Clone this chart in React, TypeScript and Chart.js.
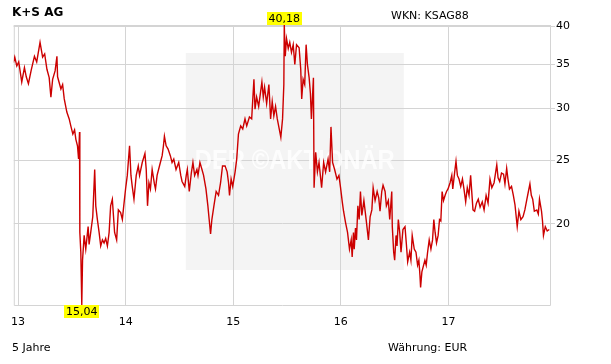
import React, { useEffect, useRef } from "react";
import { Chart, registerables } from "chart.js";

Chart.register(...registerables);

// Decimal years (trading dates) and closing prices in EUR
const dates = [
  2012.957, 2012.969, 2012.988, 2013.006, 2013.034, 2013.059, 2013.076, 2013.096, 2013.122, 2013.152,
  2013.173, 2013.204, 2013.228, 2013.247, 2013.268, 2013.289, 2013.305, 2013.321, 2013.344, 2013.361,
  2013.367, 2013.398, 2013.414, 2013.429, 2013.453, 2013.475, 2013.490, 2013.509, 2013.525, 2013.537,
  2013.552, 2013.562, 2013.571, 2013.574, 2013.583, 2013.592, 2013.599, 2013.614, 2013.629, 2013.651,
  2013.660, 2013.675, 2013.694, 2013.712, 2013.722, 2013.737, 2013.753, 2013.768, 2013.784, 2013.799,
  2013.814, 2013.830, 2013.846, 2013.860, 2013.876, 2013.897, 2013.916, 2013.932, 2013.953, 2013.969,
  2013.982, 2013.999, 2014.015, 2014.036, 2014.049, 2014.061, 2014.077, 2014.098, 2014.117, 2014.129,
  2014.154, 2014.179, 2014.191, 2014.203, 2014.216, 2014.230, 2014.246, 2014.267, 2014.277, 2014.292,
  2014.314, 2014.339, 2014.351, 2014.360, 2014.376, 2014.394, 2014.415, 2014.431, 2014.447, 2014.468,
  2014.493, 2014.512, 2014.524, 2014.549, 2014.563, 2014.573, 2014.591, 2014.610, 2014.625, 2014.641,
  2014.662, 2014.672, 2014.690, 2014.709, 2014.724, 2014.746, 2014.764, 2014.776, 2014.789, 2014.801,
  2014.820, 2014.841, 2014.863, 2014.882, 2014.900, 2014.924, 2014.943, 2014.956, 2014.965, 2014.980,
  2014.995, 2015.017, 2015.032, 2015.048, 2015.069, 2015.088, 2015.109, 2015.125, 2015.150, 2015.171,
  2015.192, 2015.202, 2015.217, 2015.236, 2015.266, 2015.279, 2015.291, 2015.310, 2015.331, 2015.347,
  2015.362, 2015.377, 2015.393, 2015.409, 2015.427, 2015.442, 2015.458, 2015.470, 2015.474, 2015.483,
  2015.495, 2015.511, 2015.525, 2015.541, 2015.557, 2015.572, 2015.588, 2015.612, 2015.627, 2015.636,
  2015.649, 2015.664, 2015.677, 2015.689, 2015.705, 2015.717, 2015.726, 2015.745, 2015.751, 2015.766,
  2015.782, 2015.797, 2015.821, 2015.840, 2015.858, 2015.881, 2015.896, 2015.908, 2015.923, 2015.942,
  2015.964, 2015.982, 2015.997, 2016.013, 2016.025, 2016.043, 2016.062, 2016.080, 2016.096, 2016.105,
  2016.117, 2016.124, 2016.136, 2016.145, 2016.158, 2016.170, 2016.182, 2016.195, 2016.214, 2016.235,
  2016.256, 2016.272, 2016.288, 2016.300, 2016.318, 2016.337, 2016.352, 2016.364, 2016.380, 2016.392,
  2016.411, 2016.423, 2016.441, 2016.454, 2016.473, 2016.478, 2016.491, 2016.500, 2016.513, 2016.522,
  2016.534, 2016.547, 2016.559, 2016.577, 2016.596, 2016.608, 2016.621, 2016.639, 2016.651, 2016.663,
  2016.682, 2016.698, 2016.713, 2016.725, 2016.735, 2016.741, 2016.753, 2016.769, 2016.781, 2016.793,
  2016.806, 2016.821, 2016.837, 2016.852, 2016.864, 2016.876, 2016.889, 2016.904, 2016.917, 2016.929,
  2016.941, 2016.954, 2016.969, 2016.982, 2016.996, 2017.015, 2017.031, 2017.040, 2017.058, 2017.070,
  2017.083, 2017.098, 2017.114, 2017.130, 2017.144, 2017.160, 2017.175, 2017.191, 2017.206, 2017.228,
  2017.243, 2017.260, 2017.277, 2017.294, 2017.314, 2017.331, 2017.350, 2017.368, 2017.386, 2017.403,
  2017.424, 2017.449, 2017.461, 2017.476, 2017.493, 2017.512, 2017.525, 2017.541, 2017.553, 2017.567,
  2017.586, 2017.603, 2017.618, 2017.639, 2017.655, 2017.673, 2017.693, 2017.710, 2017.729, 2017.743,
  2017.757, 2017.770, 2017.783, 2017.798, 2017.821, 2017.835, 2017.846, 2017.865, 2017.874, 2017.883,
  2017.900, 2017.918, 2017.937,
];

const prices = [
  35.2, 35.9, 34.8, 35.3, 32.9, 34.6, 33.5, 32.7, 34.3, 36.0,
  35.3, 37.8, 35.9, 36.3, 34.4, 33.4, 31.2, 33.2, 34.2, 36.0,
  33.5, 32.1, 32.6, 31.0, 29.6, 28.9, 28.2, 27.4, 27.8, 26.9,
  26.3, 25.1, 27.6, 19.4, 18.1, 15.04, 17.6, 19.2, 18.3, 19.8,
  18.6, 19.4, 20.5, 24.2, 21.3, 20.3, 19.4, 18.5, 18.9, 18.7,
  19.0, 18.5, 19.4, 21.3, 21.8, 19.4, 18.9, 21.0, 20.8, 20.3,
  21.3, 22.6, 23.7, 26.3, 23.7, 22.8, 21.8, 23.7, 24.5, 23.7,
  24.8, 25.6, 24.2, 21.3, 23.1, 22.6, 24.2, 23.0, 22.6, 23.7,
  24.5, 25.4, 26.3, 27.2, 26.3, 26.0, 25.4, 24.8, 25.1, 24.2,
  24.8, 23.7, 23.2, 22.8, 23.7, 24.2, 22.4, 23.9, 24.8, 23.7,
  24.2, 23.7, 24.8, 24.2, 23.7, 22.6, 21.3, 20.3, 19.3, 20.3,
  21.3, 22.4, 22.1, 23.1, 24.5, 24.5, 24.0, 23.1, 22.1, 23.4,
  22.8, 24.0, 25.1, 27.4, 28.2, 27.9, 28.9, 28.2, 29.1, 28.9,
  33.2, 29.9, 31.2, 30.2, 32.9, 31.2, 32.3, 30.5, 32.6, 28.9,
  30.7, 29.2, 30.2, 28.9, 27.9, 27.1, 28.9, 32.6, 40.18, 36.0,
  38.3, 37.0, 37.8, 36.5, 37.5, 35.0, 37.5, 37.1, 34.4, 31.0,
  33.2, 32.6, 37.5, 35.0, 33.4, 31.6, 28.9, 33.4, 22.7, 25.7,
  24.0, 24.8, 22.7, 24.8, 24.0, 25.1, 24.0, 28.1, 24.8, 24.2,
  23.4, 23.7, 22.7, 21.6, 20.9, 20.1, 19.4, 18.3, 18.9, 17.8,
  19.4, 18.3, 19.7, 18.9, 21.3, 20.3, 22.4, 20.6, 21.7, 20.3,
  18.9, 20.5, 21.0, 22.7, 21.7, 22.4, 21.9, 20.9, 22.4, 22.9,
  22.4, 21.3, 21.7, 20.3, 22.4, 19.8, 18.1, 17.6, 19.2, 18.5,
  20.3, 19.4, 18.1, 19.6, 19.8, 18.7, 17.5, 18.1, 17.6, 19.2,
  18.3, 18.1, 17.3, 17.6, 16.7, 16.0, 16.9, 17.3, 17.6, 17.3,
  18.1, 18.9, 18.3, 18.9, 20.3, 19.4, 18.7, 19.2, 20.3, 20.2,
  22.4, 21.7, 22.1, 22.4, 22.6, 23.1, 23.7, 22.6, 24.0, 24.9,
  23.7, 23.4, 22.8, 23.4, 22.6, 21.6, 22.7, 22.1, 23.7, 21.0,
  20.9, 21.5, 21.8, 21.2, 21.6, 21.0, 22.1, 21.5, 23.4, 22.7,
  23.1, 24.6, 23.5, 23.2, 23.9, 23.8, 23.0, 24.3, 23.4, 22.6,
  22.8, 22.1, 21.4, 19.8, 20.9, 20.3, 20.5, 21.0, 21.8, 22.4,
  23.0, 22.1, 21.8, 20.9, 21.0, 20.7, 21.8, 20.9, 20.2, 19.2,
  19.8, 19.5, 19.6,
];

const xTickYears = [2013, 2014, 2015, 2016, 2017];
const yTickValues = [20, 25, 30, 35, 40];
const xRangeStart = 2012.96;
const xRangeEnd = 2017.953;

const titleText = "K+S AG";
const wknText = "WKN: KSAG88";
const periodText = "5 Jahre";
const currencyText = "Währung: EUR";
const watermarkText = "DER ©AKTIONÄR";

const FONT = '"DejaVu Sans", Verdana, sans-serif';

function fmt(v: number) {
  return v.toFixed(2).replace(".", ",");
}

export default function App() {
  const ref = useRef<HTMLCanvasElement>(null);

  useEffect(() => {
    if (!ref.current) return;
    const points = dates.map((d, i) => ({ x: d, y: prices[i] }));
    let minI = 0;
    let maxI = 0;
    prices.forEach((p, i) => {
      if (p < prices[minI]) minI = i;
      if (p > prices[maxI]) maxI = i;
    });

    const decor = {
      id: "decor",
      beforeDraw(chart: any) {
        const { ctx, chartArea } = chart;
        ctx.save();
        ctx.fillStyle = "#ffffff";
        ctx.fillRect(0, 0, chart.width, chart.height);
        // watermark panel
        ctx.fillStyle = "#f4f4f4";
        ctx.fillRect(chartArea.left + 172, chartArea.top + 28, 218, 217);
        ctx.restore();
      },
      beforeDatasetsDraw(chart: any) {
        const { ctx, chartArea } = chart;
        ctx.save();
        // watermark text
        ctx.fillStyle = "rgba(255,255,255,0.8)";
        ctx.font = 'bold 27px "Liberation Sans", Arial, sans-serif';
        ctx.textBaseline = "middle";
        ctx.textAlign = "center";
        ctx.fillText(watermarkText, chartArea.left + 281, chartArea.top + 137, 200);
        // frame
        ctx.strokeStyle = "#d4d4d4";
        ctx.lineWidth = 1;
        ctx.beginPath();
        ctx.moveTo(chartArea.left + 0.5, chartArea.top);
        ctx.lineTo(chartArea.left + 0.5, chartArea.bottom + 0.5);
        ctx.lineTo(chartArea.right - 0.5, chartArea.bottom + 0.5);
        ctx.lineTo(chartArea.right - 0.5, chartArea.top);
        ctx.stroke();
        ctx.lineWidth = 2;
        ctx.beginPath();
        ctx.moveTo(chartArea.left, chartArea.top + 1);
        ctx.lineTo(chartArea.right, chartArea.top + 1);
        ctx.stroke();
        ctx.restore();
      },
      afterDatasetsDraw(chart: any) {
        const { ctx, chartArea, scales } = chart;
        ctx.save();
        ctx.font = "11px " + FONT;
        ctx.textBaseline = "middle";
        ctx.textAlign = "center";
        const drawTag = (i: number, above: boolean) => {
          const x = scales.x.getPixelForValue(dates[i]);
          const label = fmt(prices[i]);
          const w = ctx.measureText(label).width + 4;
          const h = 13;
          const top = above ? chartArea.top - h : chartArea.bottom;
          ctx.fillStyle = "#ffff00";
          ctx.fillRect(Math.round(x - w / 2), top, Math.round(w), h);
          ctx.fillStyle = "#000000";
          ctx.fillText(label, x, top + h / 2 + 0.5);
        };
        drawTag(maxI, true);
        drawTag(minI, false);
        ctx.restore();
      },
    };

    const chart = new Chart(ref.current, {
      type: "line",
      data: {
        datasets: [
          {
            data: points,
            borderColor: "#cc0000",
            borderWidth: 1.4,
            pointRadius: 0,
            tension: 0,
            fill: false,
          },
        ],
      },
      options: {
        animation: false,
        responsive: false,
        devicePixelRatio: 1,
        layout: { padding: { left: 11, top: 25, right: 0, bottom: 0 } },
        plugins: { legend: { display: false }, tooltip: { enabled: false }, title: { display: false } },
        scales: {
          x: {
            type: "linear",
            min: xRangeStart,
            max: xRangeEnd,
            afterBuildTicks: (s: any) => {
              s.ticks = xTickYears.map((v) => ({ value: v }));
            },
            afterFit: (s: any) => {
              s.height = 59;
            },
            grid: { color: "#d4d4d4", drawTicks: false, lineWidth: 1 },
            border: { display: false },
            ticks: {
              padding: 11,
              maxRotation: 0,
              autoSkip: false,
              color: "#000000",
              font: { family: FONT, size: 11 },
              callback: (v: any) => String(v).slice(2),
            },
          },
          y: {
            type: "logarithmic",
            position: "right",
            min: prices[minI],
            max: prices[maxI],
            afterBuildTicks: (s: any) => {
              s.ticks = yTickValues.map((v) => ({ value: v }));
            },
            afterFit: (s: any) => {
              s.width = 60;
            },
            grid: { color: "#d4d4d4", drawTicks: true, tickLength: 4, lineWidth: 1 },
            border: { display: false },
            ticks: {
              padding: 1,
              autoSkip: false,
              color: "#000000",
              font: { family: FONT, size: 11 },
              callback: (v: any) => String(v),
            },
          },
        },
      },
      plugins: [decor],
    });
    return () => chart.destroy();
  }, []);

  const textBase: React.CSSProperties = {
    position: "absolute",
    fontFamily: FONT,
    fontSize: 11,
    lineHeight: "13px",
    color: "#000",
    whiteSpace: "nowrap",
  };

  return (
    <div style={{ position: "absolute", left: 0, top: 0, width: 611, height: 364, background: "#fff", overflow: "hidden" }}>
      <canvas ref={ref} width={611} height={364} style={{ position: "absolute", left: 0, top: 0 }} />
      <div style={{ ...textBase, left: 12, top: 5, fontSize: 12, lineHeight: "14px", fontWeight: "bold" }}>{titleText}</div>
      <div style={{ ...textBase, left: 391, top: 9 }}>{wknText}</div>
      <div style={{ ...textBase, left: 12, top: 341 }}>{periodText}</div>
      <div style={{ ...textBase, left: 388, top: 341 }}>{currencyText}</div>
    </div>
  );
}
